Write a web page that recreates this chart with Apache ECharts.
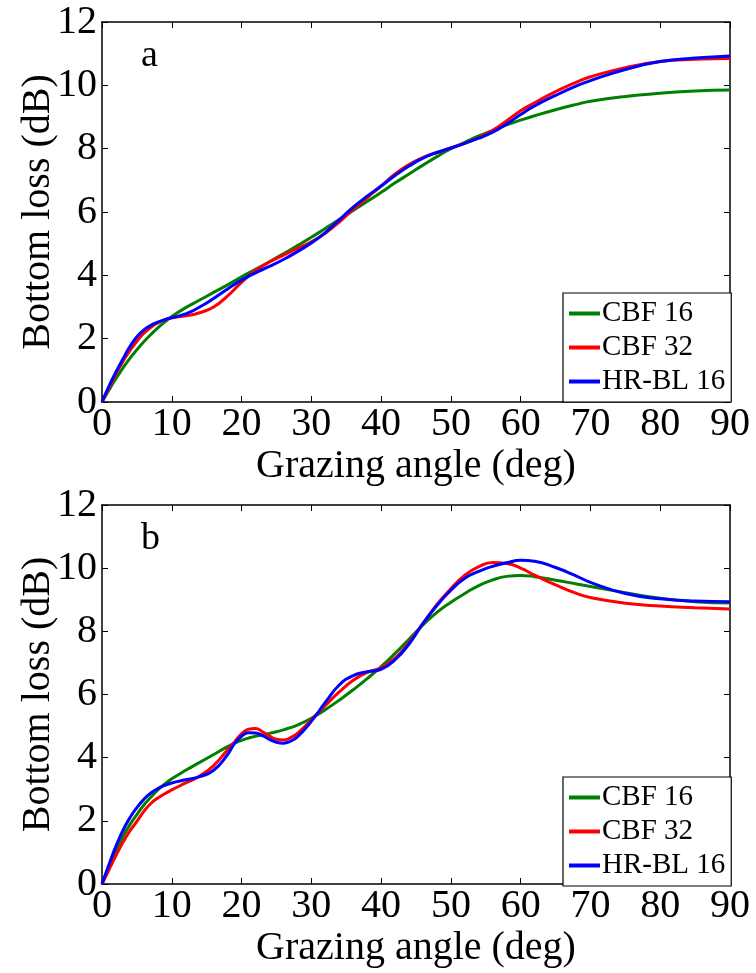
<!DOCTYPE html>
<html>
<head>
<meta charset="utf-8">
<script src="https://cdn.jsdelivr.net/npm/echarts@6/dist/echarts.min.js"></script>
<style>html,body{margin:0;padding:0;background:#fff;}#c{width:756px;height:973px;}</style>
</head>
<body>
<div id="c"></div>
<script>
// ---- data ----
var seriesNames = ['CBF 16', 'CBF 32', 'HR-BL 16'];
var panelLabels = ['a', 'b'];
var xTicks = [0, 10, 20, 30, 40, 50, 60, 70, 80, 90];
var yTicks = [0, 2, 4, 6, 8, 10, 12];

var angleA = [0,1,2,3,4,5,6,7,8,9,10,12,14,16,18,20,22,24,26,28,30,32,34,36,38,40,42,44,46,48,50,52,54,56,58,60,62,65,68,70,75,80,85,90];
var cbf16A = [0,0.38,0.74,1.07,1.38,1.65,1.9,2.13,2.34,2.53,2.7,2.98,3.22,3.46,3.7,3.95,4.19,4.43,4.68,4.94,5.2,5.48,5.76,6.05,6.33,6.62,6.92,7.2,7.48,7.75,8.0,8.2,8.4,8.58,8.75,8.9,9.04,9.23,9.4,9.5,9.65,9.75,9.82,9.85];
var cbf32A = [0,0.45,0.88,1.28,1.62,1.92,2.17,2.36,2.5,2.6,2.66,2.72,2.82,3.0,3.35,3.78,4.15,4.42,4.64,4.85,5.06,5.33,5.68,6.08,6.45,6.82,7.2,7.5,7.72,7.88,8.02,8.17,8.35,8.58,8.88,9.2,9.45,9.8,10.1,10.27,10.56,10.75,10.82,10.85];
var hrbl16A = [0,0.5,0.95,1.36,1.75,2.06,2.28,2.42,2.52,2.6,2.66,2.78,3.0,3.27,3.57,3.85,4.08,4.28,4.5,4.75,5.02,5.35,5.75,6.15,6.5,6.82,7.15,7.45,7.7,7.88,8.02,8.17,8.33,8.52,8.78,9.08,9.35,9.68,9.98,10.15,10.5,10.75,10.86,10.93];

var angleB = [0,1,2,3,4,5,6,7,8,9,10,12,14,16,18,19,20,21,22,23,24,25,26,27,28,30,32,34,36,38,40,42,44,46,48,50,52,54,56,58,60,62,65,68,70,75,80,85,90];
var cbf16B = [0,0.55,1.05,1.5,1.88,2.2,2.5,2.75,2.98,3.17,3.33,3.6,3.85,4.1,4.35,4.46,4.55,4.62,4.68,4.72,4.77,4.82,4.88,4.95,5.03,5.25,5.52,5.82,6.15,6.5,6.88,7.3,7.75,8.2,8.6,8.92,9.2,9.45,9.63,9.74,9.77,9.73,9.62,9.5,9.42,9.22,9.05,8.94,8.9];
var cbf32B = [0,0.45,0.9,1.32,1.68,1.98,2.3,2.55,2.72,2.86,2.98,3.2,3.42,3.75,4.25,4.5,4.75,4.9,4.92,4.82,4.68,4.58,4.56,4.63,4.77,5.2,5.65,6.08,6.45,6.7,6.85,7.15,7.65,8.25,8.85,9.35,9.78,10.05,10.18,10.15,10.0,9.78,9.47,9.2,9.07,8.89,8.8,8.75,8.71];
var hrbl16B = [0,0.62,1.2,1.7,2.1,2.42,2.68,2.88,3.02,3.12,3.2,3.3,3.4,3.6,4.1,4.45,4.68,4.79,4.78,4.7,4.58,4.49,4.46,4.52,4.66,5.15,5.75,6.3,6.6,6.72,6.8,7.1,7.6,8.25,8.82,9.3,9.68,9.9,10.06,10.17,10.25,10.22,10.02,9.75,9.55,9.2,9.03,8.96,8.94];

// ---- chart ----
var FONT = 'Liberation Serif';
var colors = ['#008000', '#ff0000', '#0000ff'];
function pairs(xs, ys) { return xs.map(function (x, i) { return [x, ys[i]]; }); }

var grids = [
  {left: 102, top: 22, width: 628, height: 380},
  {left: 102, top: 505, width: 628, height: 379}
];

var xAxes = [], yAxes = [], series = [], legends = [], graphics = [];
var panels = [
  {angle: angleA, data: [cbf16A, cbf32A, hrbl16A], legendTop: 293, labelTop: 37},
  {angle: angleB, data: [cbf16B, cbf32B, hrbl16B], legendTop: 777, labelTop: 520}
];

panels.forEach(function (p, g) {
  var tickStyle = {show: true, inside: true, length: 6, lineStyle: {color: '#000', width: 1}};
  xAxes.push({
    type: 'value', gridIndex: g, min: xTicks[0], max: xTicks[xTicks.length - 1], interval: 10,
    position: 'bottom',
    axisLine: {show: true, onZero: false, lineStyle: {color: '#000', width: 1.5}},
    axisTick: tickStyle,
    axisLabel: {fontFamily: FONT, fontSize: 40, color: '#000', margin: 2},
    splitLine: {show: false}
  });
  xAxes.push({
    type: 'value', gridIndex: g, min: 0, max: 90, interval: 10, position: 'top',
    axisLine: {show: true, onZero: false, lineStyle: {color: '#000', width: 1.5}},
    axisTick: tickStyle, axisLabel: {show: false}, splitLine: {show: false}
  });
  yAxes.push({
    type: 'value', gridIndex: g, min: yTicks[0], max: yTicks[yTicks.length - 1], interval: 2,
    position: 'left',
    axisLine: {show: true, onZero: false, lineStyle: {color: '#000', width: 1.5}},
    axisTick: tickStyle,
    axisLabel: {fontFamily: FONT, fontSize: 40, color: '#000', margin: 5},
    splitLine: {show: false}
  });
  yAxes.push({
    type: 'value', gridIndex: g, min: 0, max: 12, interval: 2, position: 'right',
    axisLine: {show: true, onZero: false, lineStyle: {color: '#000', width: 1.5}},
    axisTick: tickStyle, axisLabel: {show: false}, splitLine: {show: false}
  });
  seriesNames.forEach(function (name, k) {
    series.push({
      name: name, type: 'line', xAxisIndex: 2 * g, yAxisIndex: 2 * g,
      data: pairs(p.angle, p.data[k]),
      smooth: 0.5, showSymbol: false, symbol: 'none',
      lineStyle: {color: colors[k], width: 3}, itemStyle: {color: colors[k]},
      z: 2 + k, animation: false
    });
  });
  legends.push({
    data: seriesNames, orient: 'vertical', left: 563, top: p.legendTop,
    itemWidth: 31, itemHeight: 4, itemGap: 5, icon: 'rect',
    padding: [6, 6, 6, 6], borderColor: '#000', borderWidth: 1.2, backgroundColor: '#fff',
    textStyle: {fontFamily: FONT, fontSize: 29, color: '#000', lineHeight: 28, padding: [0, 0, 0, -3]},
    selectedMode: false
  });
  var g0 = grids[g];
  graphics.push({
    type: 'text', left: 141, top: p.labelTop,
    style: {text: panelLabels[g], font: '38px "Liberation Serif"', fill: '#000'}
  });
  graphics.push({
    type: 'text', x: g0.left + g0.width / 2, y: g0.top + g0.height + 64,
    style: {text: 'Grazing angle (deg)', font: '40px "Liberation Serif"', fill: '#000',
            align: 'center', verticalAlign: 'middle'}
  });
  graphics.push({
    type: 'text', x: 38, y: g0.top + g0.height / 2, rotation: Math.PI / 2,
    style: {text: 'Bottom loss (dB)', font: '40px "Liberation Serif"', fill: '#000',
            align: 'center', verticalAlign: 'middle'}
  });
});

var chart = echarts.init(document.getElementById('c'), null, {renderer: 'canvas'});
chart.setOption({
  animation: false,
  backgroundColor: '#fff',
  color: colors,
  textStyle: {fontFamily: FONT},
  grid: grids,
  xAxis: xAxes,
  yAxis: yAxes,
  legend: legends,
  graphic: graphics,
  series: series
});
</script>
</body>
</html>
